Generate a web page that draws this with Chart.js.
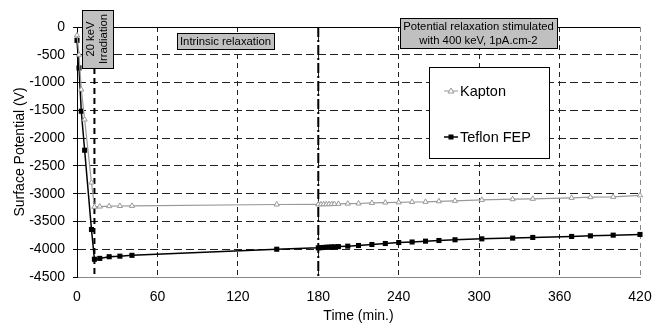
<!DOCTYPE html>
<html>
<head>
<meta charset="utf-8">
<script src="https://cdn.jsdelivr.net/npm/chart.js@4/dist/chart.umd.min.js"></script>
<style>
  body { margin: 0; background: #fff; }
  #wrap { width: 665px; height: 325px; }
</style>
</head>
<body>
<div id="wrap"><canvas id="potentialChart" width="665" height="325"></canvas></div>
<script>
// time in minutes
const times = [0, 1.5, 3.2, 5.7, 10.8, 13, 17, 24, 32, 41, 149, 180, 182, 184, 186, 188, 190, 192, 195,
  202, 210, 220, 230, 240, 250, 260, 270, 282, 302, 325, 340, 369, 383, 400, 420];
const kaptonValues = [-150, -500, -1126, -1666, -2800, -3237, -3232, -3225, -3222, -3220, -3195, -3193, -3192,
  -3191, -3190, -3189, -3188, -3186, -3184, -3180, -3177, -3167, -3160, -3157, -3150, -3147, -3137, -3130,
  -3112, -3100, -3093, -3075, -3063, -3057, -3030];
const teflonValues = [-240, -737, -1516, -2218, -3645, -4180, -4165, -4135, -4125, -4110, -4000, -3975, -3972,
  -3968, -3965, -3962, -3960, -3957, -3953, -3945, -3933, -3915, -3897, -3880, -3870, -3855, -3843, -3830,
  -3813, -3800, -3788, -3770, -3759, -3747, -3734];
const seriesNames = ['Kapton', 'Teflon FEP'];
const irradiationEnd = 13;
const stimulationStart = 180;

const FONT = '"Liberation Sans", Arial, sans-serif';

function toPoints(values) {
  return times.map((t, i) => ({ x: t, y: values[i] }));
}

function box(ctx, x, y, w, h, fill) {
  ctx.fillStyle = fill;
  ctx.fillRect(x, y, w, h);
  ctx.strokeStyle = '#000';
  ctx.lineWidth = 1;
  ctx.strokeRect(x + 0.5, y + 0.5, w, h);
}

const overlayPlugin = {
  id: 'overlay',
  beforeDatasetsDraw(chart) {
    const ctx = chart.ctx;
    const area = chart.chartArea;
    const xs = chart.scales.x;
    ctx.save();
    // top frame line
    ctx.strokeStyle = '#000';
    ctx.lineWidth = 1;
    ctx.beginPath();
    ctx.moveTo(area.left, area.top + 0.5);
    ctx.lineTo(area.right, area.top + 0.5);
    ctx.stroke();
    // end of irradiation
    const x1 = xs.getPixelForValue(irradiationEnd);
    ctx.lineWidth = 2;
    ctx.setLineDash([6, 4]);
    ctx.beginPath();
    ctx.moveTo(x1, 68);
    ctx.lineTo(x1, area.bottom);
    ctx.stroke();
    // start of stimulation
    const x2 = xs.getPixelForValue(stimulationStart);
    ctx.setLineDash([10, 3, 2, 3]);
    ctx.beginPath();
    ctx.moveTo(x2, area.top);
    ctx.lineTo(x2, area.bottom);
    ctx.stroke();
    ctx.restore();
  },
  afterDatasetsDraw(chart) {
    const ctx = chart.ctx;
    ctx.save();
    ctx.font = '11.3px ' + FONT;
    ctx.textAlign = 'center';
    ctx.textBaseline = 'middle';

    // 20 keV irradiation label (vertical)
    box(ctx, 82, 10, 31, 58, '#c0c0c0');
    ctx.save();
    ctx.translate(97.5, 39);
    ctx.rotate(-Math.PI / 2);
    ctx.fillStyle = '#000';
    ctx.fillText('20 keV', 0, -6.5);
    ctx.fillText('Irradiation', 0, 6.5);
    ctx.restore();

    box(ctx, 177, 33, 97, 16, '#c0c0c0');
    ctx.fillStyle = '#000';
    ctx.fillText('Intrinsic relaxation', 225.5, 41.5);

    box(ctx, 400, 18, 157, 30, '#c0c0c0');
    ctx.fillStyle = '#000';
    ctx.fillText('Potential relaxation stimulated', 478.5, 26.5);
    ctx.fillText('with 400 keV, 1pA.cm-2', 478.5, 40.5);

    // legend
    box(ctx, 429, 67, 120, 91, '#fff');
    const rows = [
      { y: 91, color: '#999', name: seriesNames[0], tri: true },
      { y: 137, color: '#000', name: seriesNames[1], tri: false }
    ];
    rows.forEach(r => {
      ctx.strokeStyle = r.color;
      ctx.lineWidth = r.tri ? 1 : 1.5;
      ctx.beginPath();
      ctx.moveTo(444, r.y);
      ctx.lineTo(458, r.y);
      ctx.stroke();
      if (r.tri) {
        ctx.fillStyle = '#fff';
        ctx.beginPath();
        ctx.moveTo(451, r.y - 3);
        ctx.lineTo(454, r.y + 2);
        ctx.lineTo(448, r.y + 2);
        ctx.closePath();
        ctx.fill();
        ctx.stroke();
      } else {
        ctx.fillStyle = '#000';
        ctx.fillRect(448.5, r.y - 2.5, 5, 5);
      }
      ctx.fillStyle = '#000';
      ctx.font = '14.5px ' + FONT;
      ctx.textAlign = 'left';
      ctx.fillText(r.name, 460, r.y + 1);
    });
    ctx.restore();
  }
};

new Chart(document.getElementById('potentialChart'), {
  type: 'scatter',
  data: {
    datasets: [{
      label: seriesNames[0],
      data: toPoints(kaptonValues),
      showLine: true,
      clip: false,
      borderColor: '#999',
      borderWidth: 1.2,
      pointStyle: 'triangle',
      pointRadius: 3,
      pointBackgroundColor: '#fff',
      pointBorderColor: '#999',
      pointBorderWidth: 1
    }, {
      label: seriesNames[1],
      data: toPoints(teflonValues),
      showLine: true,
      clip: false,
      borderColor: '#000',
      borderWidth: 1.5,
      pointStyle: 'rect',
      pointRadius: 3.6,
      pointBackgroundColor: '#000',
      pointBorderColor: '#000',
      pointBorderWidth: 0
    }]
  },
  options: {
    responsive: false,
    animation: false,
    layout: { padding: { top: 27, right: 25, left: 0, bottom: 0 } },
    plugins: {
      legend: { display: false },
      tooltip: { enabled: false }
    },
    scales: {
      x: {
        type: 'linear',
        min: 0,
        max: 420,
        afterFit: scale => { scale.height = 48; },
        ticks: {
          stepSize: 60,
          color: '#000',
          padding: 8,
          callback: v => String(v),
          font: { family: FONT, size: 14 }
        },
        grid: {
          color: ctx => ctx.tick && ctx.tick.value === 420 ? '#888' : '#222',
          lineWidth: 1,
          tickLength: 4,
          tickColor: 'rgba(0,0,0,0)'
        },
        border: { display: true, color: '#888', width: 1, dash: [5, 4] },
        title: {
          display: true,
          text: 'Time (min.)',
          color: '#000',
          padding: { top: 0, bottom: 0 },
          font: { family: FONT, size: 14 }
        }
      },
      y: {
        min: -4500,
        max: 0,
        afterFit: scale => { scale.width = 77; },
        ticks: {
          stepSize: 500,
          autoSkip: false,
          color: '#000',
          padding: 8,
          callback: v => String(v),
          font: { family: FONT, size: 14 }
        },
        grid: {
          color: '#222',
          lineWidth: 1,
          tickLength: 4,
          tickColor: '#000'
        },
        border: { display: true, color: '#000', width: 1, dash: [8, 4] },
        title: {
          display: true,
          text: 'Surface Potential (V)',
          color: '#000',
          padding: { top: 12, bottom: 0 },
          font: { family: FONT, size: 14 }
        }
      }
    }
  },
  plugins: [overlayPlugin]
});
</script>
</body>
</html>
